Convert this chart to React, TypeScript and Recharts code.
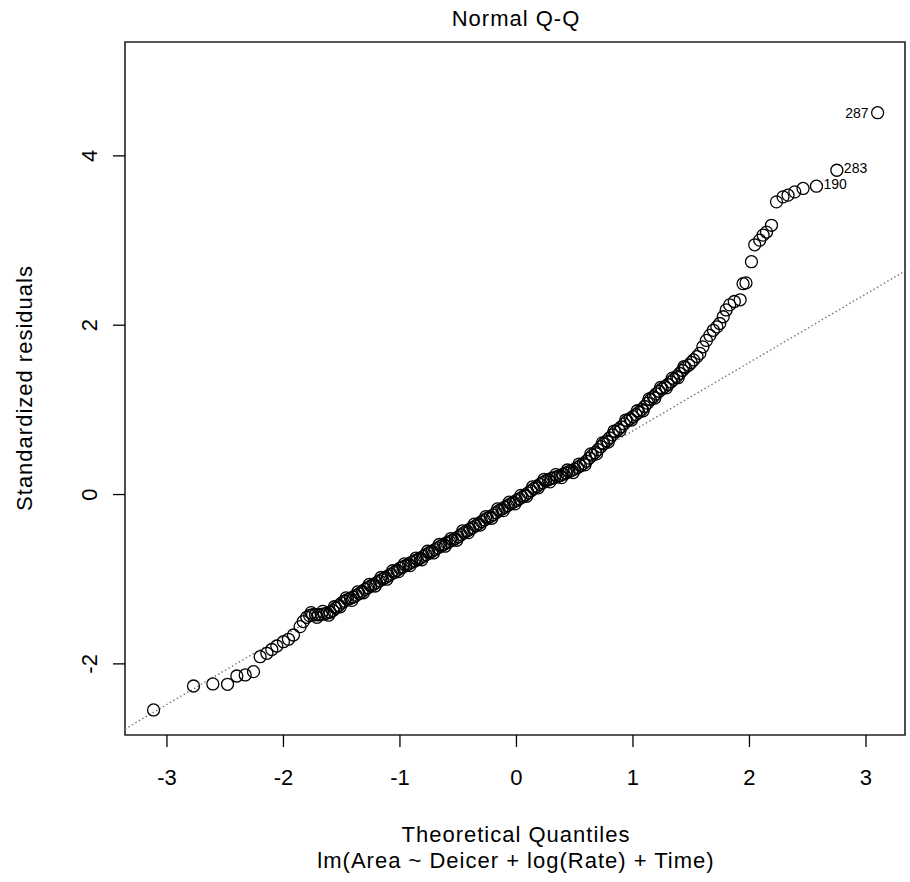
import React from 'react';
import { ScatterChart, Scatter, XAxis, YAxis, ReferenceLine, ReferenceArea } from 'recharts';

// lower tail of the Q-Q plot (theoretical quantile, standardized residual)
const lowerX = [-3.115, -2.772, -2.606, -2.48, -2.4, -2.328, -2.257, -2.2, -2.142, -2.1, -2.057, -2.0, -1.957, -1.914, -1.857, -1.83];
const lowerY = [-2.544, -2.261, -2.237, -2.241, -2.143, -2.131, -2.092, -1.915, -1.875, -1.83, -1.789, -1.738, -1.71, -1.659, -1.56, -1.5];

// the dense middle band
const centerX = [
    -1.8, -1.775, -1.75, -1.725, -1.7, -1.675, -1.65, -1.625, -1.6, -1.575,
    -1.55, -1.525, -1.5, -1.475, -1.45, -1.425, -1.4, -1.375, -1.35, -1.325,
    -1.3, -1.275, -1.25, -1.225, -1.2, -1.175, -1.15, -1.125, -1.1, -1.075,
    -1.05, -1.025, -1, -0.975, -0.95, -0.925, -0.9, -0.875, -0.85, -0.825,
    -0.8, -0.775, -0.75, -0.725, -0.7, -0.675, -0.65, -0.625, -0.6, -0.575,
    -0.55, -0.525, -0.5, -0.475, -0.45, -0.425, -0.4, -0.375, -0.35, -0.325,
    -0.3, -0.275, -0.25, -0.225, -0.2, -0.175, -0.15, -0.125, -0.1, -0.075,
    -0.05, -0.025, 0, 0.025, 0.05, 0.075, 0.1, 0.125, 0.15, 0.175,
    0.2, 0.225, 0.25, 0.275, 0.3, 0.325, 0.35, 0.375, 0.4, 0.425,
    0.45, 0.475, 0.5, 0.525, 0.55, 0.575, 0.6, 0.625, 0.65, 0.675,
    0.7, 0.725, 0.75, 0.775, 0.8, 0.825, 0.85, 0.875, 0.9, 0.925,
    0.95, 0.975, 1, 1.025, 1.05, 1.075, 1.1, 1.125, 1.15, 1.175,
    1.2, 1.225, 1.25, 1.275, 1.3, 1.325, 1.35, 1.375, 1.4, 1.425,
    1.45,
];
const centerY = [
    -1.45, -1.43, -1.42, -1.42, -1.42, -1.415, -1.41, -1.4, -1.39, -1.37,
    -1.34, -1.31, -1.28, -1.26, -1.24, -1.225, -1.21, -1.19, -1.17, -1.145,
    -1.12, -1.1, -1.08, -1.06, -1.04, -1.02, -1.0, -0.98, -0.96, -0.94,
    -0.92, -0.895, -0.87, -0.855, -0.84, -0.82, -0.8, -0.785, -0.77, -0.75,
    -0.73, -0.71, -0.69, -0.67, -0.65, -0.63, -0.61, -0.59, -0.57, -0.555,
    -0.54, -0.52, -0.5, -0.475, -0.45, -0.43, -0.41, -0.39, -0.37, -0.345,
    -0.32, -0.3, -0.28, -0.26, -0.24, -0.215, -0.19, -0.17, -0.15, -0.13,
    -0.11, -0.09, -0.07, -0.05, -0.03, -0.005, 0.02, 0.045, 0.07, 0.095,
    0.12, 0.14, 0.16, 0.175, 0.19, 0.2, 0.21, 0.225, 0.24, 0.255,
    0.27, 0.285, 0.3, 0.32, 0.34, 0.365, 0.395, 0.43, 0.465, 0.495,
    0.53, 0.565, 0.6, 0.635, 0.67, 0.705, 0.74, 0.77, 0.8, 0.835,
    0.87, 0.895, 0.92, 0.945, 0.97, 1.005, 1.04, 1.08, 1.12, 1.155,
    1.19, 1.22, 1.25, 1.275, 1.3, 1.33, 1.36, 1.395, 1.43, 1.465,
    1.5,
];

// more residuals inside the band, a little above and below its middle
const bandX = [
    -1.7625, -1.7125, -1.6625, -1.6125, -1.5625, -1.5125, -1.4625, -1.4125, -1.3625, -1.3125,
    -1.2625, -1.2125, -1.1625, -1.1125, -1.0625, -1.0125, -0.9625, -0.9125, -0.8625, -0.8125,
    -0.7625, -0.7125, -0.6625, -0.6125, -0.5625, -0.5125, -0.4625, -0.4125, -0.3625, -0.3125,
    -0.2625, -0.2125, -0.1625, -0.1125, -0.0625, -0.0125, 0.0375, 0.0875, 0.1375, 0.1875,
    0.2375, 0.2875, 0.3375, 0.3875, 0.4375, 0.4875, 0.5375, 0.5875, 0.6375, 0.6875,
    0.7375, 0.7875, 0.8375, 0.8875, 0.9375, 0.9875, 1.0375, 1.0875, 1.1375, 1.1875,
    1.2375, 1.2875, 1.3375, 1.3875, 1.4375,
];
const bandY = [
    -1.395, -1.45, -1.38, -1.425, -1.325, -1.325, -1.22, -1.25, -1.15, -1.16,
    -1.06, -1.08, -0.98, -1.0, -0.9, -0.91, -0.82, -0.84, -0.75, -0.77,
    -0.67, -0.69, -0.59, -0.61, -0.52, -0.54, -0.43, -0.45, -0.35, -0.36,
    -0.26, -0.28, -0.17, -0.19, -0.09, -0.11, -0.01, -0.02, 0.09, 0.08,
    0.18, 0.15, 0.235, 0.2, 0.29, 0.26, 0.36, 0.35, 0.48, 0.48,
    0.61, 0.62, 0.75, 0.755, 0.88, 0.88, 0.99, 0.99, 1.13, 1.14,
    1.265, 1.26, 1.375, 1.38, 1.51,
];

// upper tail, bending away from the line
const upperX = [1.48, 1.5, 1.52, 1.55, 1.574, 1.6, 1.63, 1.66, 1.69, 1.72, 1.745, 1.775, 1.8, 1.83, 1.87, 1.92, 1.945, 1.97, 2.017, 2.045, 2.088, 2.117, 2.146, 2.189, 2.232, 2.288, 2.331, 2.389, 2.46];
const upperY = [1.53, 1.56, 1.59, 1.63, 1.667, 1.745, 1.82, 1.88, 1.94, 1.98, 2.02, 2.1, 2.18, 2.24, 2.28, 2.3, 2.49, 2.5, 2.75, 2.95, 3.005, 3.064, 3.1, 3.18, 3.457, 3.516, 3.536, 3.575, 3.615];

// the three flagged observations
const labeledX = [2.575, 2.75, 3.1];
const labeledY = [3.642, 3.83, 4.51];
const labeledId = ['190', '283', '287'];

const xTicks = [-3, -2, -1, 0, 1, 2, 3];
const yTicks = [-2, 0, 2, 4];

// qqline through the quartiles
const qqIntercept = -0.055;
const qqSlope = 0.808;

const X_MIN = -3.36;
const X_MAX = 3.335;
const Y_MIN = -2.84;
const Y_MAX = 5.345;

const FONT = '"Liberation Sans", Arial, sans-serif';

const zip = (xs: number[], ys: number[]) =>
    xs.slice(0, Math.min(xs.length, ys.length)).map((x, i) => ({ x, y: ys[i] }));

const points = [
    ...zip(lowerX, lowerY),
    ...zip(centerX, centerY),
    ...zip(bandX, bandY),
    ...zip(upperX, upperY),
];
const flagged = labeledX.map((x, i) => ({ x, y: labeledY[i], id: labeledId[i] }));

const OpenCircle = (props: any) => (
    <circle cx={props.cx} cy={props.cy} r={6} fill="none" stroke="#000" strokeWidth={1.3} />
);

const FlaggedPoint = (props: any) => {
    const { cx, cy, payload } = props;
    const onLeft = payload.x > 3; // 287 is written to the left of its point
    return (
        <g>
            <circle cx={cx} cy={cy} r={6} fill="none" stroke="#000" strokeWidth={1.3} />
            <text
                x={onLeft ? cx - 9 : cx + 7}
                y={onLeft ? cy + 5 : cy + 3}
                textAnchor={onLeft ? 'end' : 'start'}
                fontSize={14}
                fontFamily={FONT}
                fill="#000"
            >
                {payload.id}
            </text>
        </g>
    );
};

const YTick = (props: any) => {
    const { y, payload } = props;
    return (
        <text
            x={97}
            y={y}
            transform={`rotate(-90 97 ${y})`}
            textAnchor="middle"
            fontSize={22}
            fontFamily={FONT}
            fill="#000"
        >
            {payload.value}
        </text>
    );
};

const App: React.FC = () => {
    return (
        <div style={{ position: 'absolute', left: 0, top: 0, width: 910, height: 882, background: '#fff' }}>
            <ScatterChart width={910} height={882} margin={{ top: 42, right: 5, bottom: 87, left: 65 }}>
                <XAxis
                    dataKey="x"
                    type="number"
                    domain={[X_MIN, X_MAX]}
                    ticks={xTicks}
                    allowDataOverflow
                    height={60}
                    axisLine={false}
                    tickSize={12}
                    tickMargin={22}
                    tickLine={{ stroke: '#000', strokeWidth: 1.3 }}
                    tick={{ fontSize: 22, fill: '#000', fontFamily: FONT }}
                />
                <YAxis
                    dataKey="y"
                    type="number"
                    domain={[Y_MIN, Y_MAX]}
                    ticks={yTicks}
                    allowDataOverflow
                    width={60}
                    axisLine={false}
                    tickSize={12}
                    tickLine={{ stroke: '#000', strokeWidth: 1.3 }}
                    tick={<YTick />}
                />
                <ReferenceArea
                    x1={X_MIN}
                    x2={X_MAX}
                    y1={Y_MIN}
                    y2={Y_MAX}
                    fill="none"
                    stroke="#222"
                    strokeWidth={1.6}
                />
                <Scatter data={points} shape={<OpenCircle />} isAnimationActive={false} />
                <Scatter data={flagged} shape={<FlaggedPoint />} isAnimationActive={false} />
                <ReferenceLine
                    segment={[
                        { x: X_MIN, y: qqIntercept + qqSlope * X_MIN },
                        { x: X_MAX, y: qqIntercept + qqSlope * X_MAX },
                    ]}
                    stroke="#777"
                    strokeWidth={1.4}
                    strokeDasharray="1.5 2.5"
                />
                <text x={516} y={26} textAnchor="middle" fontSize={22} fontFamily={FONT} letterSpacing={1} fill="#000">
                    Normal Q-Q
                </text>
                <text x={516} y={842} textAnchor="middle" fontSize={22} fontFamily={FONT} letterSpacing={1} fill="#000">
                    Theoretical Quantiles
                </text>
                <text x={516} y={868} textAnchor="middle" fontSize={22} fontFamily={FONT} letterSpacing={1} fill="#000">
                    lm(Area ~ Deicer + log(Rate) + Time)
                </text>
                <text
                    x={32}
                    y={388}
                    transform="rotate(-90 32 388)"
                    textAnchor="middle"
                    fontSize={22}
                    fontFamily={FONT}
                    letterSpacing={1}
                    fill="#000"
                >
                    Standardized residuals
                </text>
            </ScatterChart>
        </div>
    );
};

export default App;
